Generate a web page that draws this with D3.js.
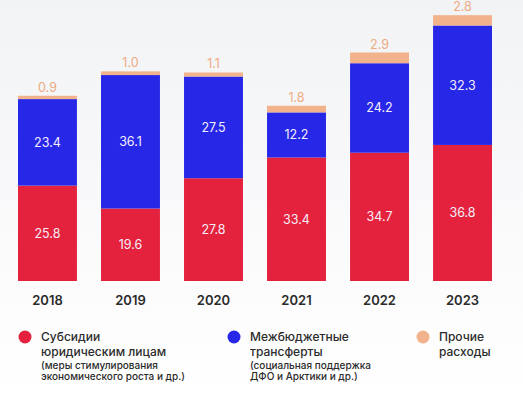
<!DOCTYPE html>
<html>
<head>
<meta charset="utf-8">
<script src="https://cdn.jsdelivr.net/npm/d3@7"></script>
<style>
  body { margin: 0; background: #fff; }
  svg { display: block; font-family: Inter, "Noto Sans", sans-serif; }
</style>
</head>
<body>
<div id="chart"></div>
<script>
var years = ["2018", "2019", "2020", "2021", "2022", "2023"];
var subsidies = [25.8, 19.6, 27.8, 33.4, 34.7, 36.8];
var transfers = [23.4, 36.1, 27.5, 12.2, 24.2, 32.3];
var other = [0.9, 1.0, 1.1, 1.8, 2.9, 2.8];

var seriesKeys = ["subsidies", "transfers", "other"];
var colors = { subsidies: "#e4223d", transfers: "#2727e8", other: "#f2b28c" };

var legendItems = [
    { key: "subsidies", title: ["Субсидии", "юридическим лицам"], note: ["(меры стимулирования", "экономического роста и др.)"], x: 25 },
    { key: "transfers", title: ["Межбюджетные", "трансферты"], note: ["(социальная поддержка", "ДФО и Арктики и др.)"], x: 234 },
    { key: "other", title: ["Прочие", "расходы"], note: [], x: 423 }
];

var width = 523, height = 396;

var rows = years.map(function (y, i) {
    return { year: y, subsidies: subsidies[i], transfers: transfers[i], other: other[i] };
});

var svg = d3.select("#chart").append("svg")
    .attr("width", width)
    .attr("height", height);

// soft grey fade at the top
var grad = svg.append("defs").append("linearGradient")
    .attr("id", "bg").attr("x1", 0).attr("y1", 0).attr("x2", 0).attr("y2", 1);
grad.append("stop").attr("offset", "0%").attr("stop-color", "#f2f3f5");
grad.append("stop").attr("offset", "75%").attr("stop-color", "#fcfcfd");
grad.append("stop").attr("offset", "100%").attr("stop-color", "#ffffff");
svg.append("rect").attr("width", width).attr("height", height).attr("fill", "url(#bg)");

var x = d3.scaleBand()
    .domain(years)
    .range([18, 492])
    .paddingInner(0.29)
    .paddingOuter(0);

var y = d3.scaleLinear()
    .domain([0, 76])
    .range([281, 0]);

var stacked = d3.stack().keys(seriesKeys)(rows);

var layer = svg.append("g")
    .selectAll("g")
    .data(stacked)
    .join("g")
    .attr("fill", function (d) { return colors[d.key]; });

layer.selectAll("rect")
    .data(function (d) { return d; })
    .join("rect")
    .attr("x", function (d) { return x(d.data.year); })
    .attr("y", function (d) { return y(d[1]); })
    .attr("width", x.bandwidth())
    .attr("height", function (d) { return y(d[0]) - y(d[1]); });

// values inside red and blue segments
stacked.slice(0, 2).forEach(function (s) {
    svg.append("g")
        .selectAll("text")
        .data(s)
        .join("text")
        .attr("x", function (d) { return x(d.data.year) + x.bandwidth() / 2; })
        .attr("y", function (d) { return (y(d[0]) + y(d[1])) / 2; })
        .attr("dy", "0.35em")
        .attr("text-anchor", "middle")
        .attr("fill", "#f4eefa")
        .attr("font-size", 12.5)
        .text(function (d) { return (d[1] - d[0]).toFixed(1); });
});

// peach values above bars
svg.append("g")
    .selectAll("text")
    .data(stacked[2])
    .join("text")
    .attr("x", function (d) { return x(d.data.year) + x.bandwidth() / 2; })
    .attr("y", function (d) { return y(d[1]) - 4; })
    .attr("text-anchor", "middle")
    .attr("fill", "#eeaa82")
    .attr("font-size", 12.5)
    .text(function (d) { return (d[1] - d[0]).toFixed(1); });

// year axis
var axis = svg.append("g")
    .attr("transform", "translate(0,281)")
    .call(d3.axisBottom(x).tickSize(0).tickPadding(15));
axis.select(".domain").remove();
axis.selectAll("text")
    .attr("font-family", "Inter, sans-serif")
    .attr("font-size", 13)
    .attr("font-weight", 600)
    .attr("fill", "#2b2b2b");

// legend
var legend = svg.append("g")
    .selectAll("g")
    .data(legendItems)
    .join("g")
    .attr("transform", function (d) { return "translate(" + d.x + ",337)"; });

legend.append("circle")
    .attr("r", 6.5)
    .attr("fill", function (d) { return colors[d.key]; });

legend.each(function (d) {
    var g = d3.select(this);
    d.title.forEach(function (t, i) {
        g.append("text")
            .attr("x", 16)
            .attr("y", i * 15)
            .attr("dy", "0.35em")
            .attr("font-size", 12)
            .attr("font-weight", 500)
            .attr("fill", "#2b2b2b")
            .text(t);
    });
    d.note.forEach(function (t, i) {
        g.append("text")
            .attr("x", 16)
            .attr("y", 28 + i * 11)
            .attr("dy", "0.35em")
            .attr("font-size", 10)
            .attr("font-weight", 500)
            .attr("fill", "#2b2b2b")
            .text(t);
    });
});
</script>
</body>
</html>
